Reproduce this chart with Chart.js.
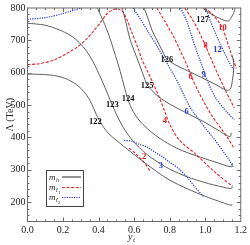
<!DOCTYPE html>
<html>
<head>
<meta charset="utf-8">
<script src="https://cdn.jsdelivr.net/npm/chart.js@4.4.1/dist/chart.umd.min.js"></script>
<style>
  html, body { margin: 0; padding: 0; background: #fff; }
  canvas { display: block; }
</style>
</head>
<body>
<canvas id="contours" width="250" height="245" style="width:250px;height:245px"></canvas>
<script>
// Axis ticks
const xTicks = [0, 0.2, 0.4, 0.6, 0.8, 1.0, 1.2];
const yTicks = [200, 300, 400, 500, 600, 700, 800];

// m_h contours, points as [y_t, Lambda (TeV)]
const mh122 = [[0,596],[0.126,593],[0.209,583],[0.276,563],[0.327,535],[0.360,505],[0.388,470],[0.421,437],[0.460,410],[0.520,382],[0.600,347],[0.700,305],[0.800,268],[0.900,241],[1.000,218],[1.080,202],[1.147,190],[1.151,194]];
const mh123 = [[0,753],[0.098,747],[0.181,732],[0.248,713],[0.293,692],[0.332,667],[0.366,637],[0.393,607],[0.421,573],[0.449,537],[0.477,500],[0.505,466],[0.540,430],[0.580,398],[0.630,368],[0.700,336],[0.800,302],[0.900,278],[1.000,260],[1.080,249],[1.147,242],[1.153,251]];
const mh124 = [[0.393,800],[0.427,759],[0.460,713],[0.488,665],[0.516,615],[0.539,568],[0.561,525],[0.585,490],[0.615,462],[0.650,440],[0.700,415],[0.770,388],[0.850,364],[0.950,343],[1.050,325],[1.147,309],[1.153,321]];
const mh125 = [[0.533,800],[0.555,753],[0.572,713],[0.600,668],[0.628,628],[0.650,595],[0.673,563],[0.700,545],[0.740,525],[0.800,503],[0.900,474],[1.000,446],[1.070,423],[1.139,402],[1.147,414]];
const mh126 = [[0.656,800],[0.678,768],[0.700,732],[0.728,701],[0.756,671],[0.784,642],[0.830,625],[0.900,606],[0.980,585],[1.050,566],[1.119,546],[1.141,549],[1.153,576],[1.161,616],[1.158,640],[1.150,652]];
const mh127 = [[0.985,800],[1.019,786],[1.058,774],[1.102,763],[1.131,760],[1.147,771],[1.161,786],[1.169,800]];

// m_stop1 contours (red dashed)
const mt1_2 = [[0.572,367],[0.606,351],[0.639,333],[0.667,315],[0.689,296]];
const mt1_4 = [[0,625],[0.070,628],[0.153,640],[0.220,659],[0.282,680],[0.332,704],[0.377,732],[0.416,759],[0.449,783],[0.483,795],[0.511,797],[0.539,786],[0.561,762],[0.589,722],[0.617,683],[0.645,640],[0.678,601],[0.712,561],[0.745,519],[0.773,479],[0.801,440],[0.851,394],[0.946,348],[1.058,291],[1.147,251]];
const mt1_6 = [[0.728,800],[0.773,759],[0.818,716],[0.857,671],[0.896,625],[0.929,580],[0.963,540],[1.002,500],[1.041,464],[1.086,430],[1.125,400],[1.158,370]];
const mt1_8 = [[0.885,800],[0.924,768],[0.963,729],[1.002,683],[1.035,640],[1.074,592],[1.113,546],[1.141,516],[1.164,491]];
const mt1_10 = [[0.996,800],[1.035,783],[1.069,762],[1.097,738],[1.119,704],[1.141,668],[1.164,631],[1.175,613]];

// m_stop2 contours (blue dotted)
const mt2_3 = [[0.544,391],[0.589,388],[0.628,379],[0.673,370],[0.717,354],[0.762,339],[0.807,321],[0.851,303],[0.896,278],[0.940,248],[0.991,217]];
const mt2_6a = [[0,765],[0.098,770],[0.181,780],[0.248,791],[0.304,800]];
const mt2_6 = [[0.594,800],[0.639,762],[0.684,722],[0.728,683],[0.773,640],[0.818,598],[0.857,558],[0.890,519],[0.924,485],[0.963,456],[1.007,424],[1.052,394],[1.097,360],[1.131,333],[1.158,309]];
const mt2_9 = [[0.862,800],[0.896,759],[0.924,713],[0.951,668],[0.980,625],[1.002,589],[1.030,552],[1.063,519],[1.102,491],[1.136,470],[1.164,455]];
const mt2_12 = [[1.002,800],[1.030,759],[1.058,722],[1.086,686],[1.113,656],[1.136,631],[1.158,610]];

// Contour labels [y_t, Lambda, text]
const mhLabels = [[0.382,449,'122'],[0.477,500,'123'],[0.566,519,'124'],[0.673,561,'125'],[0.784,640,'126'],[0.985,765,'127']];
const mt1Labels = [[0.656,339,'2'],[0.773,452,'4'],[0.918,586,'6'],[1.002,683,'8'],[1.097,738,'10']];
const mt2Labels = [[0.751,312,'3'],[0.896,479,'6'],[0.991,595,'9'],[1.069,671,'12']];

const GRAY = '#4d4d4d';
const RED = '#e3232b';
const BLUE = '#2437d6';
const SERIF = '"Liberation Serif", "DejaVu Serif", serif';

function curve(points, color, dash, width) {
  return {
    data: points.map(p => ({ x: p[0], y: p[1] })),
    showLine: true,
    borderColor: color,
    borderWidth: width,
    borderDash: dash,
    pointRadius: 0,
    tension: 0.3,
    fill: false
  };
}

const datasets = [
  ...[mh122, mh123, mh124, mh125, mh126, mh127].map(c => curve(c, GRAY, [], 0.9)),
  ...[mt1_2, mt1_4, mt1_6, mt1_8, mt1_10].map(c => curve(c, RED, [3, 1.6], 1.1)),
  ...[mt2_3, mt2_6a, mt2_6, mt2_9, mt2_12].map(c => curve(c, BLUE, [1.2, 1.2], 1.2))
];

// Frame, inward ticks, contour labels, legend and x title
const framePlugin = {
  id: 'frame',
  afterDraw(chart) {
    const { ctx, chartArea: a, scales: { x, y } } = chart;
    ctx.save();
    ctx.strokeStyle = '#6a6a6a';
    ctx.lineWidth = 1;
    ctx.strokeRect(a.left, a.top, a.right - a.left, a.bottom - a.top);

    ctx.beginPath();
    for (let i = 1; i < 24; i++) {
      const px = Math.round(x.getPixelForValue(i * 0.05)) + 0.5;
      const len = i % 4 === 0 ? 4 : 2;
      ctx.moveTo(px, a.bottom); ctx.lineTo(px, a.bottom - len);
      ctx.moveTo(px, a.top); ctx.lineTo(px, a.top + len);
    }
    for (let v = 160; v < 800; v += 20) {
      const py = Math.round(y.getPixelForValue(v)) + 0.5;
      const len = v % 100 === 0 ? 4 : 2;
      ctx.moveTo(a.left, py); ctx.lineTo(a.left + len, py);
      ctx.moveTo(a.right, py); ctx.lineTo(a.right - len, py);
    }
    ctx.stroke();

    // contour labels
    ctx.textAlign = 'center';
    ctx.textBaseline = 'middle';
    ctx.font = 'bold 8.5px ' + SERIF;
    const put = (list, color) => {
      ctx.fillStyle = color;
      list.forEach(l => ctx.fillText(l[2], x.getPixelForValue(l[0]), y.getPixelForValue(l[1])));
    };
    put(mhLabels, '#111');
    put(mt1Labels, RED);
    put(mt2Labels, BLUE);

    // legend
    ctx.strokeStyle = '#444';
    ctx.strokeRect(46.5, 170.5, 37, 36);
    const rows = [[177, GRAY, [], 'h'], [187.5, RED, [3, 1.6], '1'], [197.5, BLUE, [1.2, 1.2], '2']];
    ctx.textAlign = 'left';
    ctx.textBaseline = 'alphabetic';
    rows.forEach(([ry, color, dash, sub]) => {
      ctx.fillStyle = '#222';
      ctx.font = 'italic 9px ' + SERIF;
      ctx.fillText('m', 49, ry + 2.5);
      if (sub === 'h') {
        ctx.font = 'italic 6px ' + SERIF;
        ctx.fillText('h', 56, ry + 4.5);
      } else {
        ctx.font = 'italic 6px ' + SERIF;
        ctx.fillText('t\u0303', 56, ry + 4.5);
        ctx.font = '5px ' + SERIF;
        ctx.fillText(sub, 58, ry + 6.5);
      }
      ctx.strokeStyle = color;
      ctx.lineWidth = dash.length ? 1.1 : 1.2;
      ctx.setLineDash(dash);
      ctx.beginPath();
      ctx.moveTo(62, ry); ctx.lineTo(81, ry);
      ctx.stroke();
      ctx.setLineDash([]);
    });

    // x axis title y_t
    ctx.fillStyle = '#222';
    ctx.font = 'italic 10px ' + SERIF;
    ctx.fillText('y', 128, 240);
    ctx.font = 'italic 7px ' + SERIF;
    ctx.fillText('t', 133, 242);
    ctx.restore();
  }
};

const chart = new Chart(document.getElementById('contours'), {
  type: 'scatter',
  data: { datasets },
  options: {
    responsive: false,
    animation: false,
    layout: { padding: { top: 4.5, right: 7.5, left: 0, bottom: 0 } },
    plugins: { legend: { display: false }, tooltip: { enabled: false } },
    scales: {
      x: {
        type: 'linear',
        min: 0,
        max: 1.2,
        afterBuildTicks: s => { s.ticks = xTicks.map(v => ({ value: v })); },
        afterFit: s => { s.height = 23.5; },
        grid: { display: false, drawTicks: false },
        border: { display: false },
        ticks: {
          padding: 3,
          color: '#222',
          font: { family: SERIF, size: 10 },
          callback: v => v.toFixed(1)
        }
      },
      y: {
        type: 'linear',
        min: 140,
        max: 800,
        afterBuildTicks: s => { s.ticks = yTicks.map(v => ({ value: v })); },
        afterFit: s => { s.width = 27.5; },
        grid: { display: false, drawTicks: false },
        border: { display: false },
        ticks: {
          padding: 2,
          color: '#222',
          font: { family: SERIF, size: 10 },
          callback: v => String(v)
        },
        title: {
          display: true,
          text: 'Λ (TeV)',
          color: '#222',
          font: { family: SERIF, size: 10 },
          padding: { top: 4, bottom: 0 }
        }
      }
    }
  },
  plugins: [framePlugin]
});
</script>
</body>
</html>
